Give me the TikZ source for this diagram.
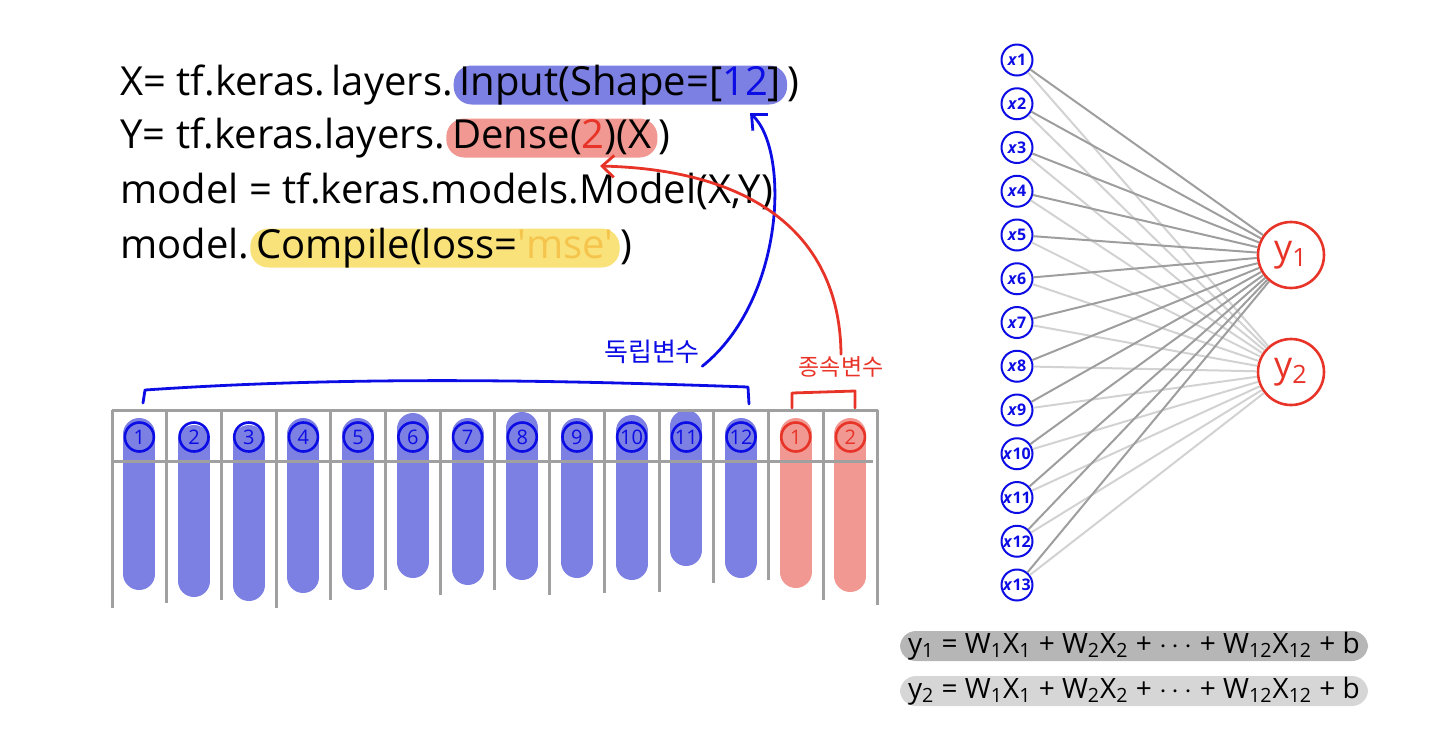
\documentclass[tikz,border=0pt]{standalone}
\usepackage{fontspec}
\setmainfont{Open Sans}
\newfontfamily\krfont{Noto Sans CJK KR}
\usetikzlibrary{arrows.meta, positioning, calc}
\definecolor{penBlue}{RGB}{12,12,228}
\definecolor{penRed}{RGB}{232,52,40}
\definecolor{markBlue}{RGB}{124,128,226}
\definecolor{markRed}{RGB}{240,152,145}
\definecolor{markYellow}{RGB}{250,226,122}
\definecolor{mseText}{RGB}{245,196,76}
\definecolor{lineGray}{RGB}{160,160,160}
\definecolor{wireDark}{RGB}{158,158,158}
\definecolor{wireLight}{RGB}{210,210,210}
\definecolor{eqDark}{RGB}{182,182,182}
\definecolor{eqLight}{RGB}{214,214,214}

\begin{document}
\begin{tikzpicture}[x=0.5pt, y=-0.5pt,
    code/.style={font=\fontsize{20}{24}\selectfont, inner xsep=0pt, inner ysep=0pt, text height=15pt, text depth=4.5pt},
    hl/.style={code, rounded corners=9pt, inner xsep=3pt},
    varlabel/.style={font=\krfont\fontsize{13}{14}\selectfont, inner sep=1pt},
    pen/.style={line width=1.4pt, line cap=round, line join=round},
    penarrow/.style={pen, -{Straight Barb[length=6pt, width=11pt]}},
    tableline/.style={draw=lineGray, line width=1.5pt},
    colbar/.style={line width=16pt, line cap=round},
    numcirc/.style={circle, draw, line width=1.3pt, minimum size=14.5pt, inner sep=0pt, font=\fontsize{10}{10}\selectfont},
    xnode/.style={circle, draw=penBlue, text=penBlue, line width=1pt, fill=white, minimum size=15.5pt, inner sep=0pt,
      font=\fontsize{8}{8}\selectfont\bfseries},
    ynode/.style={circle, draw=penRed, text=penRed, line width=1.3pt, fill=white, minimum size=33pt, inner sep=0pt,
      font=\fontsize{18}{18}\selectfont},
    wire/.style={line width=1pt},
    eqband/.style={rounded corners=8pt, minimum width=234pt, inner xsep=4pt, inner ysep=0pt, text height=11pt, text depth=4pt,
      font=\fontsize{14}{16}\selectfont}
  ]
  \useasboundingbox (0,0) rectangle (1432,746);

  % code lines
  \node[code, anchor=west] (xin) at (120,85) {X= tf.keras.\,layers.};
  \node[hl, fill=markBlue, right=0pt of xin] (xlayer) {Input(Shape=[\textcolor{penBlue}{12}]};
  \node[code, right=0pt of xlayer] (xend) {)};
  \node[code, anchor=west] (yin) at (120,138) {Y= tf.keras.layers.};
  \node[hl, fill=markRed, right=0pt of yin] (ylayer) {Dense(\textcolor{penRed}{2})(X};
  \node[code, right=0pt of ylayer] (yend) {)};
  \node[code, anchor=west] (mdl) at (120,193) {model = tf.keras.models.Model(X,Y)};
  \node[code, anchor=west] (cin) at (120,248) {model.};
  \node[hl, fill=markYellow, right=0pt of cin] (cmark) {Compile(loss=\textcolor{mseText}{\textquotesingle mse\textquotesingle}};
  \node[code, right=0pt of cmark] (cend) {)};

  % variable labels and arrows
  \node[varlabel, text=penBlue] (indep) at (652,352) {독립변수};
  \node[varlabel, text=penRed, font=\krfont\fontsize{11.5}{12}\selectfont] (dep) at (841,367) {종속변수};
  \coordinate (twelve) at (750,113);
  \coordinate (two) at (600,166);
  \draw[penarrow, draw=penBlue] (indep.south east) .. controls (785,300) and (790,150) .. (twelve);
  \draw[penarrow, draw=penRed] (dep.north) .. controls (840,240) and (760,170) .. (two);
  \draw[pen, draw=penBlue] (143,403) -- (145,390) .. controls (350,376) and (550,380) .. (748,387) -- (749,404);
  \draw[pen, draw=penRed] (792,408) -- (792,393) -- (855,391) -- (855,408);

  % columns
  \foreach \i/\hi/\lo in {1/418/590, 2/425/597, 3/425/601, 4/418/593, 5/418/590, 6/413/578,
      7/418/585, 8/412/580, 9/418/578, 10/415/580, 11/410/566, 12/418/578}
    \draw[colbar, draw=markBlue] ({112+54.7*(\i-0.5)},{\hi+16}) -- ({112+54.7*(\i-0.5)},{\lo-16});
  \foreach \i/\lo in {13/588, 14/592}
    \draw[colbar, draw=markRed] ({112+54.7*(\i-0.5)},{418+16}) -- ({112+54.7*(\i-0.5)},{\lo-16});
  \draw[tableline] (112,410) -- (878,410);
  \draw[tableline] (112,461) -- (873,461);
  \foreach \k/\lo in {0/608, 1/603, 2/600, 3/608, 4/600, 5/590, 6/595, 7/590, 8/595, 9/593, 10/592,
      11/583, 12/580, 13/600, 14/605}
    \draw[tableline] ({112+54.7*\k},410) -- ({112+54.7*\k},\lo);
  \foreach \i in {1,...,12}
    \node[numcirc, draw=penBlue, text=penBlue] (n\i) at ({112+54.7*(\i-0.5)},437) {\i};
  \node[numcirc, draw=penRed, text=penRed] (d1) at ({112+54.7*12.5},437) {1};
  \node[numcirc, draw=penRed, text=penRed] (d2) at ({112+54.7*13.5},437) {2};

  % network
  \foreach \i in {1,...,13}
    \node[xnode] (x\i) at (1017,{60+43.75*(\i-1)}) {\textit{x}\i};
  \node[ynode] (y1) at (1291,255) {y\textsubscript{1}};
  \node[ynode] (y2) at (1291,372) {y\textsubscript{2}};
  \foreach \i in {1,...,13}
    \draw[wire, draw=wireLight] (x\i) -- (y2);
  \foreach \i in {1,...,13}
    \draw[wire, draw=wireDark] (x\i) -- (y1);

  % equations
  \node[eqband, fill=eqDark] (eq1) at (1134,646)
    {y\textsubscript{1} = W\textsubscript{1}X\textsubscript{1} + W\textsubscript{2}X\textsubscript{2} + $\cdots$ + W\textsubscript{12}X\textsubscript{12} + b};
  \node[eqband, fill=eqLight] (eq2) at (1134,691)
    {y\textsubscript{2} = W\textsubscript{1}X\textsubscript{1} + W\textsubscript{2}X\textsubscript{2} + $\cdots$ + W\textsubscript{12}X\textsubscript{12} + b};
\end{tikzpicture}
\end{document}
